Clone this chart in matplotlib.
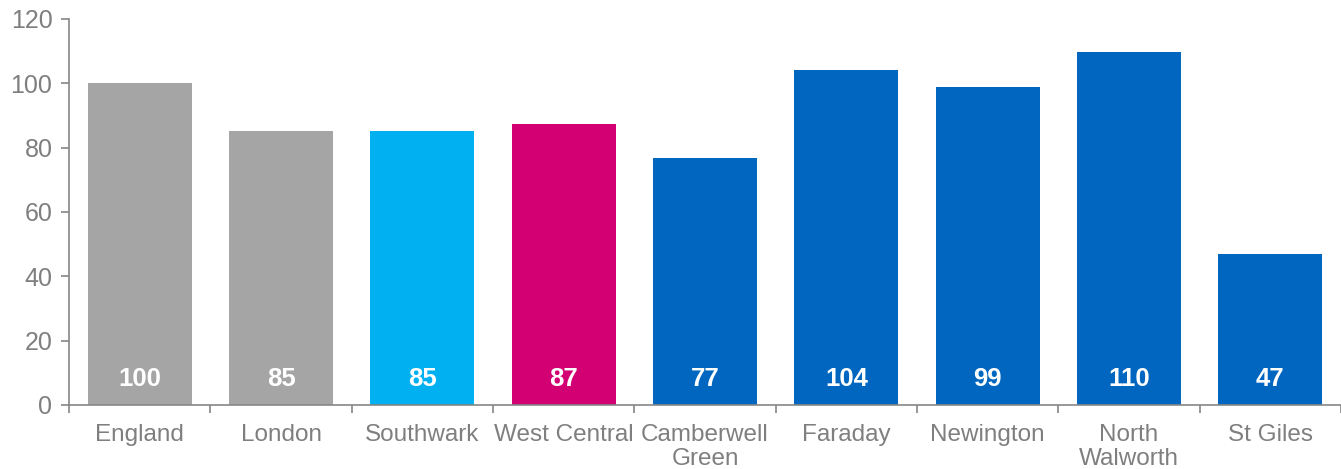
import matplotlib.pyplot as plt
import numpy as np

plt.rcParams['font.family'] = ['Liberation Sans', 'DejaVu Sans']

# dados
categorias = ['England', 'London', 'Southwark', 'West Central', 'Camberwell\nGreen',
              'Faraday', 'Newington', 'North\nWalworth', 'St Giles']
valores = [100.2, 85.2, 85.1, 87.3, 76.7, 104.2, 98.9, 109.8, 47.0]
rotulos = ['100', '85', '85', '87', '77', '104', '99', '110', '47']
cores = ['#A5A5A5', '#A5A5A5', '#00B0F0', '#D20073', '#0066BF',
         '#0066BF', '#0066BF', '#0066BF', '#0066BF']

cinza = '#868686'

fig = plt.figure(figsize=(13.41, 4.69), dpi=100)
ax = fig.add_axes([0.0515, 0.1365, 0.9485, 0.823])

x = np.arange(len(categorias))
ax.bar(x, valores, width=0.735, color=cores)

for xi, r in zip(x, rotulos):
    ax.text(xi, 8.2, r, ha='center', va='center', color='white',
            fontsize=18.5, fontweight='bold')

ax.set_xlim(-0.5, len(categorias) - 0.5)
ax.set_ylim(0, 120)
ax.set_yticks(np.arange(0, 121, 20))

# ticks do eixo x entre categorias
ax.set_xticks(np.arange(-0.5, len(categorias), 1))
ax.set_xticklabels([])
ax.set_xticks(x, minor=True)
ax.set_xticklabels(categorias, minor=True, linespacing=1.1)
ax.tick_params(axis='x', which='minor', length=0, pad=14, labelsize=17.5, labelcolor='#7F7F7F')
ax.tick_params(axis='x', which='major', length=6, color=cinza, width=1.2)
ax.tick_params(axis='y', length=6, color=cinza, width=1.2, labelsize=18, labelcolor='#7F7F7F', pad=6)

for lado in ['top', 'right']:
    ax.spines[lado].set_visible(False)
for lado in ['left', 'bottom']:
    ax.spines[lado].set_color(cinza)
    ax.spines[lado].set_linewidth(1.2)

fig.savefig('out.png', dpi=100)
